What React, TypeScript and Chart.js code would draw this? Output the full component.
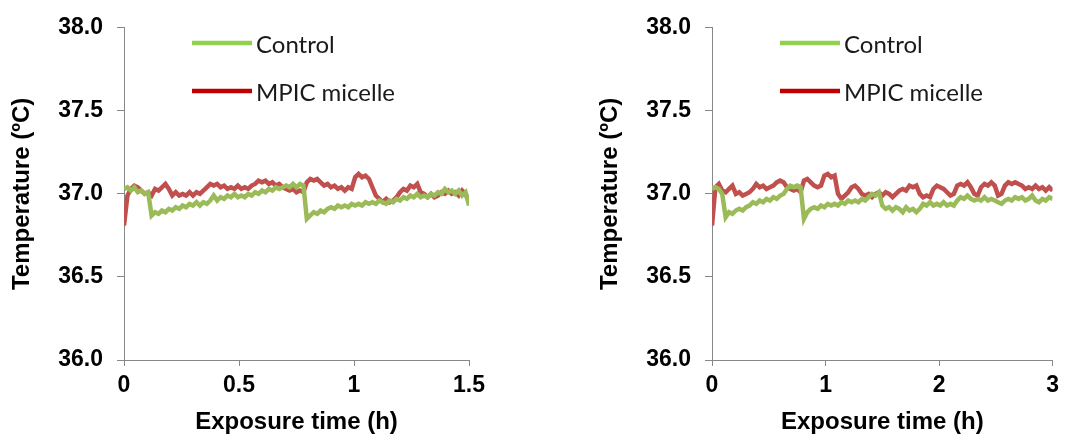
import React, { useEffect, useRef } from "react";
import { Chart, registerables } from "chart.js";

Chart.register(...registerables);

// ---- Data (°C), sampled every STEP hours ----
const SERIES_NAMES = ["Control", "MPIC micelle"];
const Y_TICKS = [36.0, 36.5, 37.0, 37.5, 38.0];

// Left panel: 0 – 1.5 h
const LEFT_STEP = 0.015;
const LEFT_X_TICKS = [0, 0.5, 1, 1.5];
const LEFT_CONTROL = [
  37.03, 37.04, 37.02, 37.04, 37.01, 37.02, 37.0, 37.01, 36.87, 36.89,
  36.88, 36.9, 36.89, 36.91, 36.9, 36.92, 36.91, 36.93, 36.92, 36.94,
  36.93, 36.95, 36.93, 36.95, 36.94, 36.96, 36.99, 36.96, 36.98, 36.97,
  36.99, 36.98, 37.0, 36.98, 36.99, 36.98, 37.0, 36.99, 37.01, 37.0,
  37.02, 37.01, 37.03, 37.02, 37.04, 37.03, 37.04, 37.05, 37.04, 37.06,
  37.04, 37.06, 37.05, 36.85, 36.87, 36.89, 36.88, 36.9, 36.89, 36.91,
  36.92, 36.91, 36.93, 36.92, 36.93, 36.92, 36.94, 36.93, 36.94, 36.93,
  36.95, 36.94, 36.95, 36.94, 36.96, 36.95, 36.94, 36.96, 36.95, 36.97,
  36.96, 36.98, 36.97, 36.99, 36.98, 37.0, 36.98, 36.99, 36.98, 37.0,
  36.99, 37.01, 37.0, 37.03, 37.01, 37.02, 37.0, 37.02, 36.99, 37.01,
  36.93,
];
const LEFT_MICELLE = [
  36.81, 36.99, 37.03, 37.05, 37.04, 37.02, 37.0, 37.01, 36.99, 37.03,
  37.02, 37.04, 37.06, 37.03, 36.99, 37.01, 36.99, 37.0, 36.99, 37.01,
  36.99, 37.01, 37.0, 37.02, 37.04, 37.06, 37.05, 37.06, 37.04, 37.05,
  37.03, 37.04, 37.03, 37.05, 37.03, 37.04, 37.03, 37.05, 37.06, 37.08,
  37.07, 37.08, 37.06, 37.07, 37.05, 37.06, 37.04, 37.03, 37.02, 37.03,
  37.01, 37.02, 37.01, 37.07, 37.09, 37.08, 37.09, 37.07, 37.05, 37.06,
  37.04, 37.05, 37.03, 37.04, 37.02, 37.04, 37.03, 37.1, 37.12, 37.1,
  37.11, 37.09, 37.04, 36.99, 36.97, 36.95, 36.97, 36.95, 36.96, 36.98,
  37.01, 37.03, 37.02, 37.05, 37.04, 37.06, 37.01, 37.0, 36.98, 37.0,
  36.98, 36.99, 37.01, 37.0, 37.02, 37.0, 37.01, 36.99, 37.02, 37.0,
  36.95,
];

// Right panel: 0 – 3 h
const RIGHT_STEP = 0.03;
const RIGHT_X_TICKS = [0, 1, 2, 3];
const RIGHT_CONTROL = [
  37.03, 37.04, 37.03, 37.0, 36.86, 36.89, 36.88, 36.9, 36.91, 36.9,
  36.92, 36.93, 36.95, 36.94, 36.96, 36.95, 36.97, 36.96, 36.98, 36.97,
  36.99, 37.0, 37.03, 37.05, 37.04, 37.05, 37.04, 36.85, 36.89, 36.91,
  36.92, 36.91, 36.93, 36.92, 36.94, 36.93, 36.94, 36.93, 36.95, 36.94,
  36.96, 36.95, 36.96, 36.95, 36.97, 36.96, 36.98, 37.0, 36.99, 37.01,
  36.93, 36.91, 36.92, 36.9, 36.92, 36.91, 36.89, 36.92, 36.9, 36.91,
  36.89, 36.91, 36.94, 36.93, 36.95, 36.93, 36.94, 36.93, 36.95, 36.93,
  36.94, 36.93, 36.96, 36.98, 36.97, 36.99, 36.97, 36.96, 36.97, 36.96,
  36.98, 36.96, 36.97, 36.96, 36.95, 36.94, 36.96, 36.97, 36.96, 36.98,
  36.97, 36.98, 36.96, 36.97, 36.99, 36.96, 36.95, 36.97, 36.96, 36.98,
  36.97,
];
const RIGHT_MICELLE = [
  36.81, 37.04, 37.06, 37.02, 37.01, 37.03, 37.05, 37.0, 37.01, 36.99,
  37.0, 37.01, 37.03, 37.06, 37.04, 37.05, 37.03, 37.04, 37.05, 37.07,
  37.08, 37.07, 37.04, 37.03, 37.02, 37.03, 37.01, 37.08, 37.09, 37.07,
  37.05, 37.04, 37.05, 37.11, 37.12, 37.1, 37.11, 37.0, 36.97, 36.99,
  37.01, 37.04, 37.05, 37.03, 37.0, 36.99, 37.0, 36.98, 37.0, 37.01,
  36.99, 37.01, 37.0, 36.98, 37.0, 37.02, 37.03, 37.02, 37.05, 37.04,
  37.05, 37.0, 36.98, 36.99, 36.98, 37.03, 37.05, 37.04, 37.03, 37.01,
  36.99, 37.0, 37.05, 37.06, 37.05, 37.07, 37.04, 37.0, 36.99, 37.04,
  37.06, 37.05, 37.07, 37.05, 36.99, 37.0, 37.05, 37.07, 37.06, 37.07,
  37.06, 37.05, 37.03, 37.04, 37.03, 37.05, 37.03, 37.04, 37.02, 37.04,
  37.02,
];

const LINE_COLORS = ["#9BBB59", "#C0504D"];
const LEGEND_COLORS = ["#92D050", "#C00000"];
const AXIS_COLOR = "#888888";
const AXIS_FONT = { family: "'Liberation Sans', Arial, sans-serif", size: 23, weight: "bold" as const };
const TITLE_FONT = { family: "'Liberation Sans', Arial, sans-serif", size: 24, weight: "bold" as const };

const legendPlugin = {
  id: "manualLegend",
  afterDatasetsDraw(chart: any) {
    const { ctx, chartArea } = chart;
    const x0 = chartArea.left + 68;
    const rows = [43, 91];
    ctx.save();
    SERIES_NAMES.forEach((name, i) => {
      ctx.strokeStyle = LEGEND_COLORS[i];
      ctx.lineWidth = 4.5;
      ctx.beginPath();
      ctx.moveTo(x0, rows[i]);
      ctx.lineTo(x0 + 60, rows[i]);
      ctx.stroke();
      ctx.fillStyle = "#1a1a1a";
      ctx.font = "24px Lato, 'Open Sans', sans-serif";
      ctx.textBaseline = "middle";
      ctx.textAlign = "left";
      ctx.fillText(name, x0 + 64, rows[i] + 2);
    });
    ctx.restore();
  },
};

function Panel(props: {
  width: number;
  padLeft: number;
  padRight: number;
  step: number;
  xMax: number;
  xTicks: number[];
  control: number[];
  micelle: number[];
}) {
  const ref = useRef<HTMLCanvasElement | null>(null);
  useEffect(() => {
    if (!ref.current) return;
    const toPts = (arr: number[]) => arr.map((y, i) => ({ x: i * props.step, y }));
    const chart = new Chart(ref.current, {
      type: "line",
      data: {
        datasets: [
          {
            label: SERIES_NAMES[0],
            data: toPts(props.control),
            borderColor: LINE_COLORS[0],
            borderWidth: 4.5,
            pointRadius: 0,
            tension: 0,
          },
          {
            label: SERIES_NAMES[1],
            data: toPts(props.micelle),
            borderColor: LINE_COLORS[1],
            borderWidth: 4.5,
            pointRadius: 0,
            tension: 0,
          },
        ],
      },
      options: {
        responsive: false,
        animation: false,
        layout: { padding: { top: 24, left: props.padLeft, right: props.padRight, bottom: 0 } },
        plugins: { legend: { display: false }, tooltip: { enabled: false } },
        scales: {
          x: {
            type: "linear",
            min: 0,
            max: props.xMax,
            afterBuildTicks: (s: any) => {
              s.ticks = props.xTicks.map((v) => ({ value: v }));
            },
            afterFit: (s: any) => {
              s.height = 78;
            },
            ticks: {
              color: "#000",
              font: AXIS_FONT,
              padding: 6,
              maxRotation: 0,
              callback: (v: any) => String(v),
            },
            grid: { drawOnChartArea: false, drawTicks: true, tickLength: 6, color: AXIS_COLOR },
            border: { display: true, color: AXIS_COLOR },
            title: {
              display: true,
              text: "Exposure time (h)",
              color: "#000",
              font: TITLE_FONT,
              padding: { top: 0, bottom: 1 },
            },
          },
          y: {
            min: 36,
            max: 38,
            afterBuildTicks: (s: any) => {
              s.ticks = Y_TICKS.map((v) => ({ value: v }));
            },
            afterFit: (s: any) => {
              s.width = 124;
            },
            ticks: {
              color: "#000",
              font: AXIS_FONT,
              padding: 14,
              callback: (v: any) => Number(v).toFixed(1),
            },
            grid: { drawOnChartArea: false, drawTicks: true, tickLength: 7, color: AXIS_COLOR },
            border: { display: true, color: AXIS_COLOR },
            title: {
              display: true,
              text: "Temperature (ºC)",
              color: "#000",
              font: TITLE_FONT,
              padding: { top: 8, bottom: 0 },
            },
          },
        },
      },
      plugins: [legendPlugin],
    });
    return () => chart.destroy();
  }, []);
  return <canvas ref={ref} width={props.width} height={438} style={{ display: "block" }} />;
}

export default function App() {
  return (
    <div
      style={{
        position: "absolute",
        left: 0,
        top: 0,
        width: 1065,
        height: 438,
        background: "#fff",
        display: "flex",
      }}
    >
      <Panel
        width={532}
        padLeft={0}
        padRight={63}
        step={LEFT_STEP}
        xMax={1.5}
        xTicks={LEFT_X_TICKS}
        control={LEFT_CONTROL}
        micelle={LEFT_MICELLE}
      />
      <Panel
        width={533}
        padLeft={56}
        padRight={9}
        step={RIGHT_STEP}
        xMax={3}
        xTicks={RIGHT_X_TICKS}
        control={RIGHT_CONTROL}
        micelle={RIGHT_MICELLE}
      />
    </div>
  );
}
